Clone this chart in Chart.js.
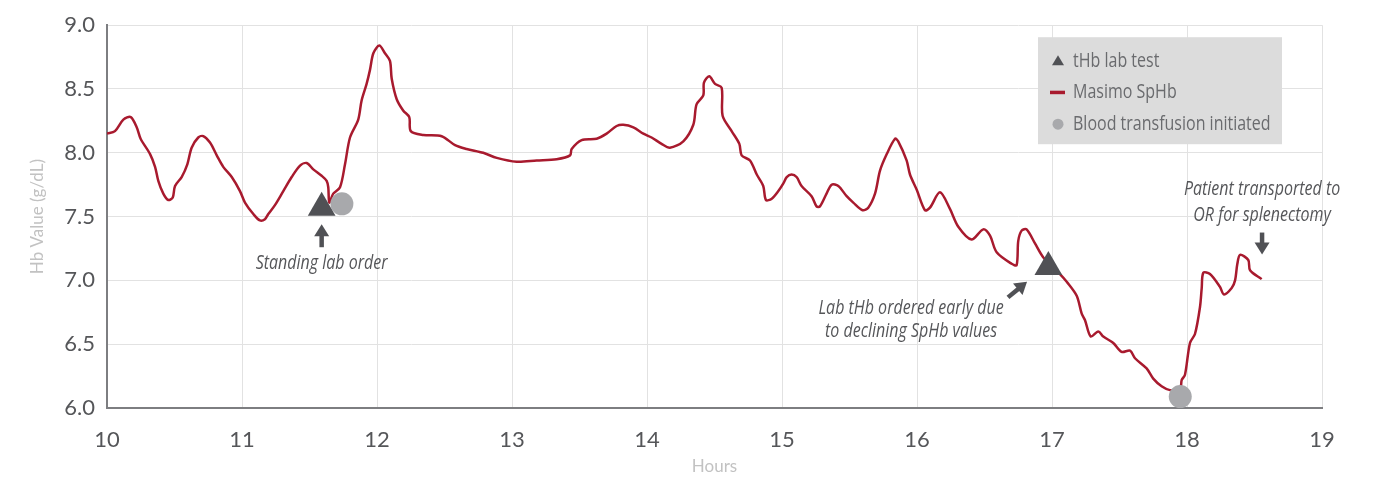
<!DOCTYPE html>
<html>
<head>
<meta charset="utf-8">
<script src="https://cdn.jsdelivr.net/npm/chart.js@4.4.0/dist/chart.umd.min.js"></script>
<style>
  html, body { margin: 0; padding: 0; background: #ffffff; }
  #wrap { width: 1373px; height: 477px; }
</style>
</head>
<body>
<div id="wrap"><canvas id="hbChart" width="1373" height="477"></canvas></div>
<script>
// hours since start of monitoring and the SpHb reading at that time
const hours = [
  10.000, 10.059, 10.121, 10.176, 10.220, 10.249, 10.319, 10.356, 10.380, 10.417,
  10.454, 10.487, 10.504, 10.553, 10.595, 10.627, 10.676, 10.713, 10.763, 10.813,
  10.861, 10.924, 10.985, 11.022, 11.084, 11.133, 11.170, 11.195, 11.244, 11.306,
  11.368, 11.430, 11.479, 11.528, 11.590, 11.627, 11.639, 11.647, 11.676, 11.726,
  11.763, 11.800, 11.861, 11.886, 11.923, 11.948, 11.973, 12.017, 12.059, 12.096,
  12.109, 12.146, 12.195, 12.239, 12.250, 12.343, 12.479, 12.578, 12.664, 12.787,
  12.887, 13.035, 13.183, 13.331, 13.430, 13.442, 13.516, 13.627, 13.701, 13.775,
  13.824, 13.899, 13.973, 14.034, 14.108, 14.170, 14.269, 14.343, 14.367, 14.417,
  14.422, 14.461, 14.504, 14.553, 14.560, 14.627, 14.684, 14.701, 14.763, 14.813,
  14.861, 14.881, 14.924, 14.973, 15.010, 15.035, 15.071, 15.108, 15.145, 15.219,
  15.256, 15.281, 15.330, 15.368, 15.417, 15.479, 15.528, 15.597, 15.639, 15.689,
  15.726, 15.776, 15.837, 15.861, 15.923, 15.948, 15.998, 16.059, 16.096, 16.170,
  16.244, 16.306, 16.404, 16.491, 16.541, 16.590, 16.701, 16.738, 16.750, 16.775,
  16.812, 16.874, 16.936, 17.059, 17.109, 17.183, 17.220, 17.244, 17.287, 17.343,
  17.380, 17.454, 17.516, 17.578, 17.615, 17.701, 17.750, 17.812, 17.874, 17.948,
  17.961, 17.985, 18.022, 18.059, 18.096, 18.109, 18.121, 18.170, 18.244, 18.274,
  18.331, 18.356, 18.373, 18.393, 18.454, 18.467, 18.553
];
const spHb = [
  8.15, 8.17, 8.26, 8.28, 8.20, 8.11, 7.99, 7.89, 7.78, 7.68,
  7.63, 7.65, 7.74, 7.81, 7.91, 8.04, 8.12, 8.13, 8.08, 7.98,
  7.89, 7.81, 7.70, 7.61, 7.52, 7.47, 7.48, 7.52, 7.59, 7.70,
  7.81, 7.90, 7.92, 7.87, 7.82, 7.78, 7.73, 7.61, 7.68, 7.73,
  7.91, 8.12, 8.26, 8.41, 8.54, 8.65, 8.78, 8.84, 8.78, 8.72,
  8.58, 8.42, 8.33, 8.28, 8.17, 8.14, 8.13, 8.06, 8.03, 8.00,
  7.96, 7.93, 7.94, 7.95, 7.98, 8.03, 8.10, 8.11, 8.15, 8.21,
  8.22, 8.20, 8.15, 8.12, 8.07, 8.04, 8.09, 8.22, 8.38, 8.45,
  8.55, 8.60, 8.54, 8.51, 8.29, 8.17, 8.07, 7.98, 7.94, 7.83,
  7.74, 7.63, 7.64, 7.70, 7.76, 7.81, 7.83, 7.81, 7.74, 7.66,
  7.58, 7.58, 7.68, 7.75, 7.74, 7.66, 7.61, 7.55, 7.57, 7.68,
  7.86, 7.99, 8.11, 8.09, 7.94, 7.83, 7.71, 7.55, 7.57, 7.69,
  7.56, 7.42, 7.32, 7.40, 7.35, 7.22, 7.13, 7.12, 7.31, 7.39,
  7.40, 7.29, 7.18, 7.05, 6.99, 6.88, 6.74, 6.69, 6.56, 6.60,
  6.56, 6.51, 6.44, 6.45, 6.39, 6.31, 6.23, 6.17, 6.14, 6.15,
  6.22, 6.26, 6.51, 6.58, 6.79, 6.94, 7.06, 7.05, 6.95, 6.89,
  6.94, 7.00, 7.13, 7.20, 7.16, 7.08, 7.01
];

// tHb lab tests
const labHours = [11.59, 16.973];
const labValues = [7.57, 7.105];

// blood transfusion started
const transfusionHours = [11.74, 17.95];
const transfusionValues = [7.60, 6.09];

const xTicks = [10, 11, 12, 13, 14, 15, 16, 17, 18, 19];
const yTicks = [6.0, 6.5, 7.0, 7.5, 8.0, 8.5, 9.0];

const legendItems = ["tHb lab test", "Masimo SpHb", "Blood transfusion initiated"];

const RED = "#a81a2e";
const DARK = "#505155";
const LIGHT = "#a8a9ac";
const NOTE_FONT = "italic 20px 'Open Sans', sans-serif";
const LEGEND_FONT = "20px 'Open Sans', sans-serif";
const NARROW = 0.8; // no condensed face installed, so squeeze the text

function toPoints(xs, ys) {
  return xs.map((x, i) => ({ x: x, y: ys[i] }));
}

function narrowText(ctx, text, x, y) {
  ctx.save();
  ctx.translate(x, y);
  ctx.scale(NARROW, 1);
  ctx.fillText(text, 0, 0);
  ctx.restore();
}

function arrow(ctx, x1, y1, x2, y2) {
  // shaft from (x1,y1) to the tip at (x2,y2)
  const ang = Math.atan2(y2 - y1, x2 - x1);
  const head = 12, half = 7.5;
  const bx = x2 - Math.cos(ang) * head, by = y2 - Math.sin(ang) * head;
  ctx.save();
  ctx.strokeStyle = DARK;
  ctx.fillStyle = DARK;
  ctx.lineWidth = 4.5;
  ctx.beginPath();
  ctx.moveTo(x1, y1);
  ctx.lineTo(bx + Math.cos(ang), by + Math.sin(ang));
  ctx.stroke();
  ctx.beginPath();
  ctx.moveTo(x2, y2);
  ctx.lineTo(bx + Math.sin(ang) * half, by - Math.cos(ang) * half);
  ctx.lineTo(bx - Math.sin(ang) * half, by + Math.cos(ang) * half);
  ctx.closePath();
  ctx.fill();
  ctx.restore();
}

const notesPlugin = {
  id: "notes",
  afterDraw(chart) {
    const ctx = chart.ctx;
    const xs = chart.scales.x, ys = chart.scales.y;
    const px = (v) => xs.getPixelForValue(v);
    const py = (v) => ys.getPixelForValue(v);

    ctx.save();
    ctx.fillStyle = "#555659";
    ctx.font = NOTE_FONT;
    ctx.textAlign = "center";
    ctx.textBaseline = "middle";

    // standing lab order
    arrow(ctx, px(11.59), py(7.26), px(11.59), py(7.44));
    narrowText(ctx, "Standing lab order", px(11.59), py(7.133));

    // early lab order
    arrow(ctx, px(16.674), py(6.867), px(16.815), py(6.99));
    narrowText(ctx, "Lab tHb ordered early due", px(15.956), py(6.78));
    narrowText(ctx, "to declining SpHb values", px(15.956), py(6.60));

    // transported to OR
    arrow(ctx, px(18.556), py(7.375), px(18.556), py(7.203));
    narrowText(ctx, "Patient transported to", px(18.556), py(7.711));
    narrowText(ctx, "OR for splenectomy", px(18.556), py(7.508));
    ctx.restore();

    // legend box
    const area = chart.chartArea;
    const bx = area.right - 284, by = area.top + 12;
    ctx.save();
    ctx.fillStyle = "#dcdcdc";
    ctx.fillRect(bx, by, 244, 107);
    ctx.font = LEGEND_FONT;
    ctx.fillStyle = "#6a6b6e";
    ctx.textAlign = "left";
    ctx.textBaseline = "middle";
    const rows = [by + 24, by + 55, by + 87];
    legendItems.forEach((t, i) => narrowText(ctx, t, bx + 35, rows[i]));

    ctx.fillStyle = DARK;
    ctx.beginPath();
    ctx.moveTo(bx + 20, rows[0] - 6);
    ctx.lineTo(bx + 26, rows[0] + 4);
    ctx.lineTo(bx + 14, rows[0] + 4);
    ctx.closePath();
    ctx.fill();

    ctx.fillStyle = RED;
    ctx.fillRect(bx + 12, rows[1] - 1.5, 15, 3.5);

    ctx.fillStyle = LIGHT;
    ctx.beginPath();
    ctx.arc(bx + 20, rows[2], 5.5, 0, Math.PI * 2);
    ctx.fill();
    ctx.restore();
  }
};

const ctx = document.getElementById("hbChart").getContext("2d");
new Chart(ctx, {
  type: "line",
  data: {
    datasets: [
      {
        label: "tHb lab test",
        type: "scatter",
        data: toPoints(labHours, labValues),
        pointStyle: "triangle",
        pointRadius: 16,
        backgroundColor: DARK,
        borderColor: DARK,
        borderWidth: 0,
        clip: false,
        order: 0
      },
      {
        label: "Blood transfusion initiated",
        type: "scatter",
        data: toPoints(transfusionHours, transfusionValues),
        pointStyle: "circle",
        pointRadius: 11.5,
        backgroundColor: LIGHT,
        borderColor: LIGHT,
        borderWidth: 0,
        clip: false,
        order: 1
      },
      {
        label: "Masimo SpHb",
        data: toPoints(hours, spHb),
        borderColor: RED,
        borderWidth: 2.5,
        pointRadius: 0,
        tension: 0.3,
        fill: false,
        order: 2
      }
    ]
  },
  options: {
    responsive: false,
    animation: false,
    layout: { padding: { left: 24, right: 51, top: 24, bottom: 0 } },
    plugins: {
      legend: { display: false },
      tooltip: { enabled: false }
    },
    scales: {
      x: {
        type: "linear",
        min: 10,
        max: 19,
        afterBuildTicks: (scale) => { scale.ticks = xTicks.map((v) => ({ value: v })); },
        afterFit: (scale) => { scale.height = 69; },
        grid: { color: "#e2e2e2", lineWidth: 1, drawTicks: false },
        border: { color: "#7d7e81", width: 2 },
        ticks: {
          padding: 19,
          color: "#555659",
          font: { family: "Lato", size: 22 },
          callback: (v) => String(v)
        },
        title: {
          display: true,
          text: "Hours",
          color: "#c2c2c2",
          font: { family: "Lato", size: 17 },
          padding: { top: 0, bottom: 0 }
        }
      },
      y: {
        min: 6,
        max: 9,
        afterBuildTicks: (scale) => { scale.ticks = yTicks.map((v) => ({ value: v })); },
        afterFit: (scale) => { scale.width = 83; },
        grid: { color: "#e2e2e2", lineWidth: 1, drawTicks: false },
        border: { color: "#7d7e81", width: 2 },
        ticks: {
          padding: 12,
          color: "#555659",
          font: { family: "Lato", size: 22 },
          callback: (v) => Number(v).toFixed(1)
        },
        title: {
          display: true,
          text: "Hb Value (g/dL)",
          color: "#c2c2c2",
          font: { family: "Lato", size: 17 },
          padding: { top: 3, bottom: 0 }
        }
      }
    }
  },
  plugins: [notesPlugin]
});
</script>
</body>
</html>
